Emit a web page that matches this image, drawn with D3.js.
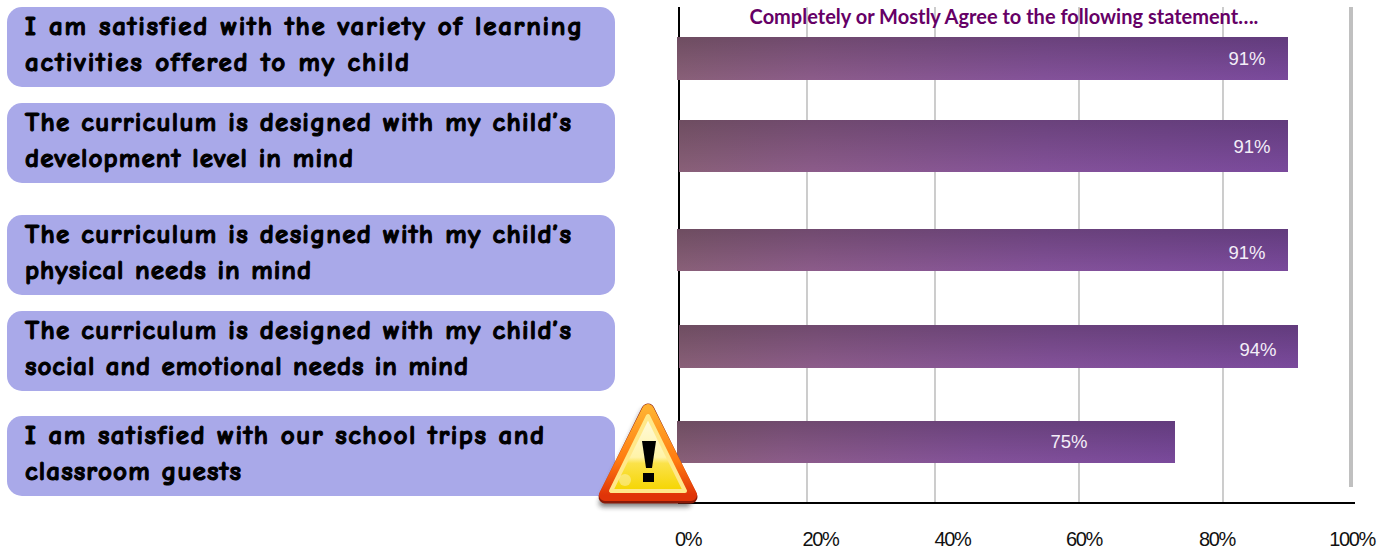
<!DOCTYPE html>
<html><head><meta charset="utf-8">
<script src="https://cdn.jsdelivr.net/npm/d3@7"></script>
<style>html,body{margin:0;padding:0;background:#fff}svg{display:block}</style>
</head><body><div id="c"></div>
<script>
const statements = [
  ["I am satisfied with the variety of learning","activities offered to my child"],
  ["The curriculum is designed with my child’s","development level in mind"],
  ["The curriculum is designed with my child’s","physical needs in mind"],
  ["The curriculum is designed with my child’s","social and emotional needs in mind"],
  ["I am satisfied with our school trips and","classroom guests"]
];
const agree = [91,91,91,94,75];
const ticks = [0,20,40,60,80,100];
const title = "Completely or Mostly Agree to the following statement….";

const W=1389,H=560;
const svg=d3.select("#c").append("svg").attr("width",W).attr("height",H);
const defs=svg.append("defs");
const idx=d3.range(statements.length);

// the source picture is stretched unevenly, so its value axis is piecewise
const x=d3.scaleLinear().domain([0,20,40,60,75,80,91,94,100]).range([679,807,935,1079,1175,1223,1288,1298,1351]);
const xLabel=d3.scaleLinear().domain([0,20,40,60,80,100]).range([688,820.5,952.5,1084,1217,1352]);
const barTop=d3.scaleOrdinal(idx,[37,120,229,325,421]);
const barH=d3.scaleOrdinal(idx,[43,52,42,43,42]);
const barX0=d3.scaleOrdinal(idx,[677,679,677,679,677]);
const labelShift=d3.scaleOrdinal(idx,[-41,-36,-41,-40,-106]);
const labelY=d3.scaleOrdinal(idx,[59,147,253,350,442]);
const boxTop=d3.scaleOrdinal(idx,[7,103,215,311,416]);
const lineEnd=d3.scaleOrdinal(idx,[[582,409],[571,353],[571,311],[571,468],[544,241]]);

// boxes
const g=svg.append("g");
g.selectAll("rect").data(idx).join("rect")
 .attr("x",7).attr("y",i=>boxTop(i)).attr("width",608).attr("height",80).attr("rx",15)
 .attr("fill","#a9a9e9");
idx.forEach(i=>{
  statements[i].forEach((t,j)=>{
    g.append("text").attr("x",25).attr("y",boxTop(i)+28+j*36)
      .attr("font-family","'Comic Sans MS','Comic Neue','Lato','Noto Sans',sans-serif")
      .attr("font-weight",900).attr("font-size",27).attr("fill","#000")
      .attr("stroke","#000").attr("stroke-width",1.1)
      .attr("textLength",lineEnd(i)[j]-25).attr("lengthAdjust","spacing").text(t);
  });
});

// grid
const yTop=7,yBase=503;
svg.append("g").selectAll("line").data(ticks.slice(1,-1)).join("line")
 .attr("x1",d=>x(d)).attr("x2",d=>x(d)).attr("y1",yTop).attr("y2",yBase)
 .attr("stroke","#c0c0c0").attr("stroke-width",1.6);
svg.append("line").attr("x1",x(100)).attr("x2",x(100)).attr("y1",yTop).attr("y2",487)
 .attr("stroke","#c0c0c0").attr("stroke-width",4);
svg.append("line").attr("x1",679).attr("x2",679).attr("y1",yTop).attr("y2",yBase+1).attr("stroke","#000").attr("stroke-width",2);
svg.append("line").attr("x1",678).attr("x2",1355).attr("y1",yBase).attr("y2",yBase).attr("stroke","#000").attr("stroke-width",2);

// bar gradients
const gh=defs.append("linearGradient").attr("id","gh");
[[0,"#896078"],[.22,"#8c5c8a"],[.6,"#84529a"],[1,"#7a4a9c"]].forEach(s=>gh.append("stop").attr("offset",s[0]).attr("stop-color",s[1]));
const gv=defs.append("linearGradient").attr("id","gv").attr("x1",0).attr("y1",0).attr("x2",0).attr("y2",1);
[[0,"#000",.2],[1,"#000",0]].forEach(s=>gv.append("stop").attr("offset",s[0]).attr("stop-color",s[1]).attr("stop-opacity",s[2]));

const bars=svg.append("g");
["url(#gh)","url(#gv)"].forEach(f=>{
  bars.append("g").selectAll("rect").data(agree).join("rect")
   .attr("x",(d,i)=>barX0(i)).attr("y",(d,i)=>barTop(i))
   .attr("width",(d,i)=>x(d)-barX0(i)).attr("height",(d,i)=>barH(i)).attr("fill",f);
});
svg.append("g").selectAll("text").data(agree).join("text")
 .attr("x",(d,i)=>x(d)+labelShift(i)).attr("y",(d,i)=>labelY(i)+6)
 .attr("text-anchor","middle").attr("fill","#f4eef8")
 .attr("font-family","'Liberation Sans',Arial,sans-serif").attr("font-size",18.5)
 .text(d=>d+"%");

// title
svg.append("text").attr("x",1004).attr("y",24).attr("text-anchor","middle")
 .attr("font-family","Lato,'Open Sans',sans-serif").attr("font-weight",700).attr("font-size",20)
 .attr("fill","#660066").text(title);

// tick labels
svg.append("g").selectAll("text").data(ticks).join("text")
 .attr("x",d=>xLabel(d)).attr("y",546).attr("text-anchor","middle")
 .attr("font-family","'Liberation Sans',Arial,sans-serif").attr("font-size",20)
 .style("letter-spacing","-1.4px").attr("fill","#111").text(d=>d+"%");

// warning icon
const grad=(id,stops,a)=>{const l=defs.append("linearGradient").attr("id",id).attr("x1",a[0]).attr("y1",a[1]).attr("x2",a[2]).attr("y2",a[3]);
  stops.forEach(s=>l.append("stop").attr("offset",s[0]).attr("stop-color",s[1]));};
grad("wo",[[0,"#ffb030"],[.6,"#ff7a10"],[1,"#e03408"]],[0,0,0,1]);
grad("wy",[[0,"#fffbe0"],[.55,"#fff3a8"],[.63,"#fbe24a"],[1,"#f5d500"]],[0,0,0,1]);
defs.append("filter").attr("id","wb").attr("x","-20%").attr("y","-20%").attr("width","140%").attr("height","140%")
  .append("feGaussianBlur").attr("stdDeviation",2.5);
const ic=svg.append("g");
const tri=(a,b,c,d)=>`M${a} ${b}L${c} ${d}L${2*a-c} ${d}Z`;
ic.append("path").attr("d",tri(646,410,604,500)).attr("fill","#222").attr("opacity",.55).attr("filter","url(#wb)").attr("stroke","#222").attr("stroke-width",8).attr("stroke-linejoin","round").attr("transform","translate(-1,3)");
ic.append("path").attr("d",tri(648,410,605,497)).attr("fill","#8a1a08").attr("stroke","#8a1a08").attr("stroke-width",13).attr("stroke-linejoin","round");
ic.append("path").attr("d",tri(648,410,605,495)).attr("fill","url(#wo)").attr("stroke","url(#wo)").attr("stroke-width",12).attr("stroke-linejoin","round");
ic.append("path").attr("d",tri(648,416,611,491)).attr("fill","url(#wy)").attr("stroke","#ffe88a").attr("stroke-width",4).attr("stroke-linejoin","round");
ic.append("ellipse").attr("cx",625).attr("cy",480).attr("rx",6).attr("ry",6).attr("fill","#fff").attr("opacity",.35);
ic.append("path").attr("d","M642 441L656 441L652 468L646 468Z").attr("fill","#000");
ic.append("rect").attr("x",643).attr("y",473).attr("width",11).attr("height",9).attr("fill","#000");
</script></body></html>
